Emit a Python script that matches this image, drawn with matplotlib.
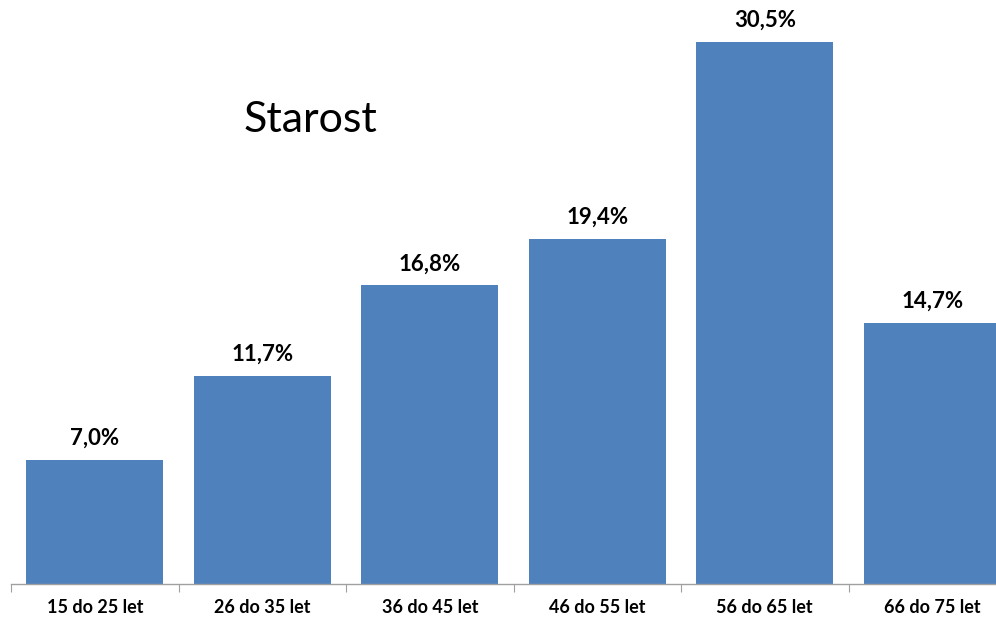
import matplotlib
matplotlib.use("Agg")
import matplotlib.pyplot as plt

# ----------- DATA -----------
categories = ["15 do 25 let", "26 do 35 let", "36 do 45 let",
              "46 do 55 let", "56 do 65 let", "66 do 75 let"]
values = [7.0, 11.7, 16.8, 19.4, 30.5, 14.7]
title = "Starost"

BAR_COLOR = "#4F81BD"
FONT = ["Lato", "DejaVu Sans"]

W, H, DPI = 996, 619, 100
fig = plt.figure(figsize=(W / DPI, H / DPI), dpi=DPI)

# axes: baseline at y=584 px, left at x=11 px, right edge clipped by figure
left, right = 11, 996
bottom, top = H - 584, H - 10
ax = fig.add_axes([left / W, bottom / H, (right - left) / W, (top - bottom) / H])

xs = range(len(categories))
bars = ax.bar(xs, values, width=0.82, color=BAR_COLOR)

for b, v in zip(bars, values):
    ax.annotate(f"{v:.1f}%".replace(".", ","),
                (b.get_x() + b.get_width() / 2, v),
                xytext=(0, 8), textcoords="offset points",
                ha="center", va="bottom", fontsize=16, fontweight="bold",
                family=FONT, color="black")

# category boundary ticks
ax.set_xticks([i - 0.5 for i in range(len(categories) + 1)])
ax.set_xticklabels([])
ax.set_xticks(list(xs), minor=True)
ax.set_xticklabels(categories, minor=True, fontsize=13, fontweight="bold", family=FONT)
ax.tick_params(axis="x", which="major", length=6, color="#A0A0A0", direction="out")
ax.tick_params(axis="x", which="minor", length=0, pad=11)
ax.set_yticks([])

# limits after ticks (set_xticks would widen the view)
px_per_cat = 167.5
ax.set_xlim(-0.5, -0.5 + (right - left) / px_per_cat)
ax.set_ylim(0, (top - bottom) / 17.77)

for s in ["top", "right", "left"]:
    ax.spines[s].set_visible(False)
ax.spines["bottom"].set_color("#A0A0A0")
ax.spines["bottom"].set_linewidth(1)

fig.text(310 / W, 1 - 120 / H, title, ha="center", va="center",
         fontsize=31, family=FONT, color="black")

fig.savefig("out.png", dpi=DPI)
